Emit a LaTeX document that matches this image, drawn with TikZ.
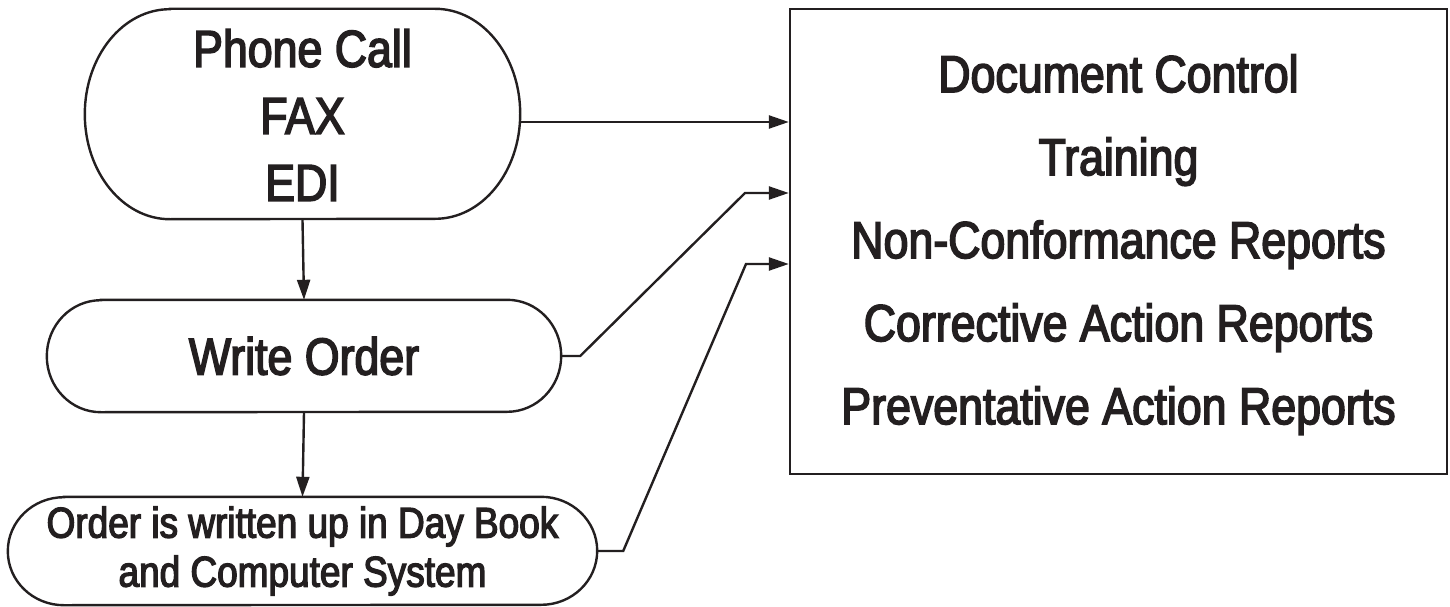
\documentclass[tikz,border=0pt]{standalone}
\usepackage{fontspec}
\setmainfont[FakeStretch=0.86,FakeBold=3]{Liberation Sans}
\usetikzlibrary{arrows.meta,calc}
\begin{document}
\begin{tikzpicture}[x=1pt,y=-1pt,
  line/.style={line width=2.4pt,draw={rgb,255:red,35;green,31;blue,32}},
  conn/.style={line,-{Triangle[length=20pt,width=13pt]},line join=miter},
  bigtxt/.style={font=\fontsize{52}{66}\selectfont,align=center,text={rgb,255:red,35;green,31;blue,32}},
  stadium/.style={inner sep=0pt}]
\useasboundingbox (0,0) rectangle (1450,607);
% top shape
\node[stadium,minimum width=435pt,minimum height=210pt,bigtxt,font=\fontsize{52}{67}\selectfont] (A) at (302.5,115) {Phone Call\\FAX\\EDI};
\draw[line] ($(A.north west)+(85,-1)$) -- ($(A.north east)+(-85,-1)$)
  arc[start angle=90,end angle=-90,x radius=85pt,y radius=105pt]
  -- ($(A.south west)+(85,-1)$)
  arc[start angle=270,end angle=90,x radius=85pt,y radius=105pt] -- cycle;
% write order
\node[stadium,minimum width=514pt,minimum height=112pt,bigtxt] (W) at (304,356) {Write Order};
\draw[line] ($(W.north west)+(54,0)$) -- ($(W.north east)+(-54,0)$)
  arc[start angle=90,end angle=-90,x radius=54pt,y radius=56pt]
  -- ($(W.south west)+(54,0)$)
  arc[start angle=270,end angle=90,x radius=54pt,y radius=56pt] -- cycle;
% order written
\node[stadium,minimum width=589pt,minimum height=108pt,bigtxt,font=\fontsize{43}{49}\selectfont] (O) at (302.5,551) {Order is written up in Day Book\\and Computer System};
\draw[line] ($(O.north west)+(56,0)$) -- ($(O.north east)+(-56,0)$)
  arc[start angle=90,end angle=-90,x radius=56pt,y radius=54pt]
  -- ($(O.south west)+(56,0)$)
  arc[start angle=270,end angle=90,x radius=56pt,y radius=54pt] -- cycle;
% box
\node[line,draw,minimum width=657pt,minimum height=465pt,bigtxt,inner sep=0pt,font=\fontsize{52}{83}\selectfont] (B) at (1118.5,241.5)
  {\rule{0pt}{44pt}Document Control\\Training\\Non-Conformance Reports\\Corrective Action Reports\\Preventative Action Reports};
% connectors
\draw[conn] (A.south) -- (W.north);
\draw[conn] (W.south) -- (O.north);
\coordinate (a1) at ($(A.east)+(0,7)$);
\draw[conn] (a1) -- (a1 -| B.west);
\coordinate (w1) at ($(W.east)+(19,0)$);
\coordinate (w2) at (745,193);
\draw[conn] (W.east) -- (w1) -- (w2) -- (w2 -| B.west);
\coordinate (o1) at ($(O.east)+(26,0)$);
\coordinate (o2) at (746,264);
\draw[conn] (O.east) -- (o1) -- (o2) -- (o2 -| B.west);
\end{tikzpicture}
\end{document}
